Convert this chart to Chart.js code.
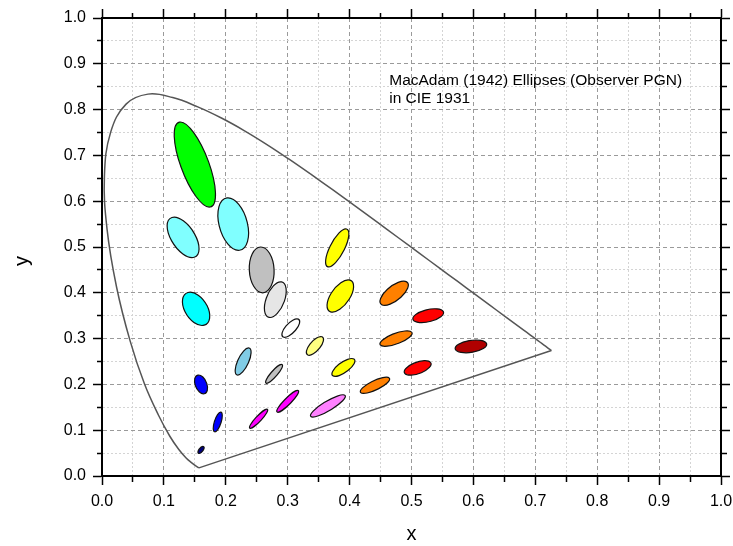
<!DOCTYPE html>
<html>
<head>
<meta charset="utf-8">
<script src="https://cdn.jsdelivr.net/npm/chart.js@4/dist/chart.umd.min.js"></script>
<style>
  html, body { margin: 0; padding: 0; background: #fff; }
  #wrap { width: 733px; height: 546px; }
</style>
</head>
<body>
<div id="wrap"><canvas id="chart" width="733" height="546"></canvas></div>
<script>
// CIE 1931 spectral locus, 450 nm .. 650 nm (5 nm steps)
const locusX = [0.1566, 0.1510, 0.1440, 0.1355, 0.1241, 0.1096, 0.0913, 0.0687, 0.0454, 0.0235,
    0.0082, 0.0039, 0.0139, 0.0389, 0.0743, 0.1142, 0.1547, 0.1929, 0.2296, 0.2658,
    0.3016, 0.3373, 0.3731, 0.4087, 0.4441, 0.4788, 0.5125, 0.5448, 0.5752, 0.6029,
    0.6270, 0.6482, 0.6658, 0.6801, 0.6915, 0.7006, 0.7079, 0.7140, 0.7190, 0.7230,
    0.7260];
const locusY = [0.0177, 0.0227, 0.0297, 0.0399, 0.0578, 0.0868, 0.1327, 0.2007, 0.2950, 0.4127,
    0.5384, 0.6548, 0.7502, 0.8120, 0.8338, 0.8262, 0.8059, 0.7816, 0.7543, 0.7243,
    0.6923, 0.6589, 0.6245, 0.5896, 0.5547, 0.5202, 0.4866, 0.4544, 0.4242, 0.3965,
    0.3725, 0.3514, 0.3340, 0.3197, 0.3083, 0.2993, 0.2920, 0.2859, 0.2809, 0.2770,
    0.2740];
// line of purples, red end back to blue end
const purpleX = [0.7260, 0.1566];
const purpleY = [0.2740, 0.0177];

// MacAdam (1942) ellipses: centre, semi axes (x 1e-3) and angle in degrees
const ellipseX = [0.160, 0.187, 0.253, 0.150, 0.131, 0.212, 0.258, 0.152, 0.280, 0.380,
    0.160, 0.228, 0.305, 0.385, 0.472, 0.527, 0.475, 0.510, 0.596, 0.344,
    0.390, 0.441, 0.278, 0.300, 0.365];
const ellipseY = [0.057, 0.118, 0.125, 0.680, 0.521, 0.550, 0.450, 0.365, 0.385, 0.498,
    0.200, 0.250, 0.323, 0.393, 0.399, 0.350, 0.300, 0.236, 0.283, 0.284,
    0.237, 0.198, 0.223, 0.163, 0.153];
const ellipseA = [0.85, 2.2, 2.5, 9.6, 4.7, 5.8, 5.0, 3.8, 4.0, 4.4,
    2.1, 3.1, 2.3, 3.8, 3.2, 2.6, 2.9, 2.4, 2.6, 2.3,
    2.5, 2.8, 2.4, 2.9, 3.6];
const ellipseB = [0.35, 0.55, 0.5, 2.3, 2.0, 2.3, 2.0, 1.9, 1.5, 1.2,
    0.95, 0.9, 0.9, 1.6, 1.4, 1.3, 1.1, 1.2, 1.3, 0.9,
    1.0, 0.95, 0.55, 0.6, 0.95];
const ellipseAngle = [62.5, 77, 55.5, 105, 112.5, 100, 92, 110, 75.5, 70,
    104, 72, 58, 65.5, 51, 20, 28.5, 29.5, 13, 60,
    47, 34.5, 57.5, 54, 40];
const ellipseColors = ['#000080', '#0000ff', '#ff00ff', '#00ff00', '#80ffff', '#80ffff', '#c0c0c0', '#00ffff', '#e6e6e6', '#ffff00',
    '#0000ff', '#80cce6', '#ffffff', '#ffff00', '#ff8000', '#ff0000', '#ff8000', '#ff0000', '#b00000', '#ffff80',
    '#ffff00', '#ff8000', '#c0c0c0', '#ff00ff', '#ff80ff'];

// ellipses are drawn 10 times enlarged
const magnify = 10;

// note text, placed in data units
const noteLines = ['MacAdam (1942) Ellipses (Observer PGN)', 'in CIE 1931'];
const noteX = 0.464;
const noteY = [0.853, 0.814];

const font = '"Liberation Sans", Arial, sans-serif';

// is a tick value on a 0.1 step?
function isMajor(v) {
    return Math.round(v * 100) % 10 === 0;
}

// plugin that draws the ellipses (and the note) through the scales
const ellipsePlugin = {
    id: 'ellipses',
    afterDatasetsDraw(chart) {
        const ctx = chart.ctx;
        const xs = chart.scales.x;
        const ys = chart.scales.y;
        const sx = xs.getPixelForValue(1) - xs.getPixelForValue(0);
        const sy = ys.getPixelForValue(0) - ys.getPixelForValue(1);
        ctx.save();
        for (let i = 0; i < ellipseX.length; i++) {
            const cx = xs.getPixelForValue(ellipseX[i]);
            const cy = ys.getPixelForValue(ellipseY[i]);
            const a = ellipseA[i] / 1000 * magnify;
            const b = ellipseB[i] / 1000 * magnify;
            ctx.save();
            ctx.translate(cx, cy);
            ctx.scale(sx, -sy);
            ctx.rotate(ellipseAngle[i] * Math.PI / 180);
            ctx.beginPath();
            ctx.ellipse(0, 0, a, b, 0, 0, Math.PI * 2);
            ctx.restore();
            ctx.fillStyle = ellipseColors[i];
            ctx.fill();
            ctx.lineWidth = 1.2;
            ctx.strokeStyle = '#111';
            ctx.stroke();
        }
        // note text
        ctx.fillStyle = '#000';
        ctx.font = '15.5px ' + font;
        ctx.textBaseline = 'alphabetic';
        ctx.textAlign = 'left';
        noteLines.forEach((t, i) => {
            ctx.fillText(t, xs.getPixelForValue(noteX), ys.getPixelForValue(noteY[i]));
        });
        ctx.restore();
    }
};

// shared axis settings: major + minor ticks with 0.05 steps
function axis(position, extra) {
    const outStart = position === 'left' || position === 'top';
    return Object.assign({
        type: 'linear',
        position: position,
        min: 0,
        max: 1,
        ticks: {
            stepSize: 0.05,
            autoSkip: false,
            maxRotation: 0,
            color: '#000',
            font: { family: font, size: 16 },
            padding: 7,
            callback: v => isMajor(v) ? v.toFixed(1) : ''
        },
        grid: {
            drawOnChartArea: false,
            tickLength: 9,
            tickColor: '#000',
            tickWidth: 1.5,
            tickBorderDash: c => {
                if (!c.tick || isMajor(c.tick.value)) return [];
                return outStart ? [0, 4, 5, 20] : [5, 20];
            }
        },
        border: { color: '#000', width: 2 }
    }, extra || {});
}

const gridColor = c => (c.tick && isMajor(c.tick.value)) ? '#9a9a9a' : '#d4d4d4';
const gridDash = c => (c.tick && isMajor(c.tick.value)) ? [4, 3] : [2, 2];

const xAxis = axis('bottom', {
    title: { display: true, text: 'x', color: '#000', font: { family: font, size: 20 }, padding: { top: 0, bottom: 0 } },
    afterFit: s => { s.height = 70; s.paddingLeft = 0; s.paddingRight = 0; }
});
xAxis.grid.drawOnChartArea = true;
xAxis.grid.color = gridColor;
xAxis.border.dash = gridDash;

const yAxis = axis('left', {
    title: { display: true, text: 'y     ', color: '#000', font: { family: font, size: 20 }, padding: { top: 10, bottom: 0 } },
    afterFit: s => { s.width = 102; s.paddingTop = 0; s.paddingBottom = 0; }
});
yAxis.grid.drawOnChartArea = true;
yAxis.grid.color = gridColor;
yAxis.border.dash = gridDash;

const x2Axis = axis('top', { afterFit: s => { s.height = 9; s.paddingLeft = 0; s.paddingRight = 0; } });
x2Axis.ticks.display = false;
const y2Axis = axis('right', { afterFit: s => { s.width = 9; s.paddingTop = 0; s.paddingBottom = 0; } });
y2Axis.ticks.display = false;

const chart = new Chart(document.getElementById('chart'), {
    type: 'scatter',
    data: {
        datasets: [{
            label: 'Spectral locus',
            data: locusX.map((x, i) => ({ x: x, y: locusY[i] })),
            showLine: true,
            borderColor: '#555',
            borderWidth: 1.5,
            pointRadius: 0,
            tension: 0.4
        }, {
            label: 'Purple line',
            data: purpleX.map((x, i) => ({ x: x, y: purpleY[i] })),
            showLine: true,
            borderColor: '#555',
            borderWidth: 1.5,
            pointRadius: 0,
            tension: 0
        }]
    },
    options: {
        responsive: false,
        animation: false,
        layout: { padding: { top: 9, right: 3, left: 0, bottom: 0 } },
        plugins: {
            legend: { display: false },
            tooltip: { enabled: false }
        },
        scales: {
            x: xAxis,
            y: yAxis,
            x2: x2Axis,
            y2: y2Axis
        }
    },
    plugins: [ellipsePlugin]
});
</script>
</body>
</html>
